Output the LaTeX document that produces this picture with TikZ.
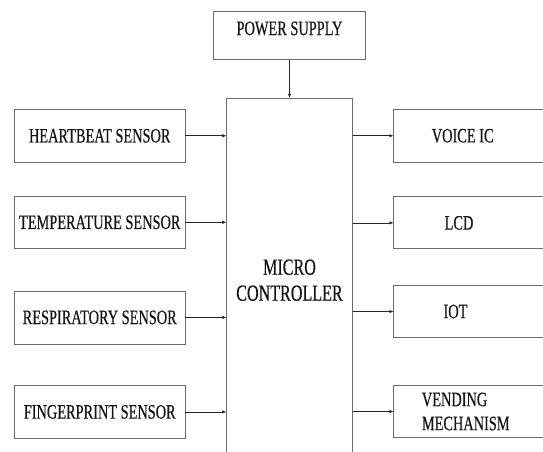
\documentclass[tikz,border=0pt]{standalone}
\usepackage{fontspec}
\setmainfont[FakeStretch=0.7,FakeBold=0.4]{Liberation Serif}
\usetikzlibrary{arrows.meta}
\definecolor{boxgray}{gray}{0.42}
\definecolor{wiregray}{gray}{0.15}
\definecolor{inkgray}{gray}{0.08}

\begin{document}
\begin{tikzpicture}[x=1pt,y=-1pt,
  every node/.style={font=\fontsize{20.5}{24}\selectfont,text=inkgray},
  blockbox/.style={draw=boxgray,line width=.8pt,inner sep=2pt,minimum height=53pt},
  openbox/.style={inner sep=0pt,minimum height=53pt,anchor=west},
  wire/.style={draw=wiregray,line width=.7pt,-{Latex[length=4pt,width=3.5pt]}}]
\useasboundingbox (0,0) rectangle (543,452);
\clip (0,0) rectangle (543,452);
% supply and controller
\node[blockbox,minimum width=152.5pt,minimum height=47.6pt,text height=14pt,text depth=14.8pt] (power) at (289.5,35.5) {POWER SUPPLY};
\node[blockbox,minimum width=125.5pt,minimum height=364pt,align=center,font=\fontsize{23}{26}\selectfont] (mcu) at (289.5,280.2) {MICRO\\CONTROLLER};
% sensors
\node[blockbox,minimum width=170.5pt] (heart) at (99.75,135.8) {HEARTBEAT SENSOR};
\node[blockbox,minimum width=170.5pt,minimum height=52.5pt] (temp) at (99.75,222.3) {TEMPERATURE SENSOR};
\node[blockbox,minimum width=170.5pt] (resp) at (99.75,317.4) {RESPIRATORY SENSOR};
\node[blockbox,minimum width=170.5pt] (finger) at (99.75,411.9) {FINGERPRINT SENSOR};
% outputs, cut off at the right edge
\node[openbox,minimum width=138pt] (voice) at (393.5,135.8) {VOICE IC};
\node[openbox,minimum width=130.6pt,minimum height=52.3pt] (lcd) at (393.5,222.9) {LCD};
\node[openbox,minimum width=123.6pt,minimum height=52.6pt] (iot) at (393.5,311.5) {IOT};
\node[openbox,inner xsep=28.2pt,align=left,minimum height=52.5pt] (vend) at (393.5,411.5) {VENDING\\MECHANISM};
\draw[boxgray,line width=.8pt] (voice.north west) rectangle ++(200,53);
\draw[boxgray,line width=.8pt] (lcd.north west) rectangle ++(200,52.3);
\draw[boxgray,line width=.8pt] (iot.north west) rectangle ++(200,52.6);
\draw[boxgray,line width=.8pt] (vend.north west) rectangle ++(200,52.5);
% connectors
\draw[wire] (power.south) -- (mcu.north);
\draw[wire] (heart.east) -- (heart.east -| mcu.west);
\draw[wire] (temp.east) -- (temp.east -| mcu.west);
\draw[wire] (resp.east) -- (resp.east -| mcu.west);
\draw[wire] (finger.east) -- (finger.east -| mcu.west);
\draw[wire] (mcu.east |- voice.west) -- (voice.west);
\draw[wire] (mcu.east |- lcd.west) -- (lcd.west);
\draw[wire] (mcu.east |- iot.west) -- (iot.west);
\draw[wire] (mcu.east |- vend.west) -- (vend.west);
\end{tikzpicture}
\end{document}
